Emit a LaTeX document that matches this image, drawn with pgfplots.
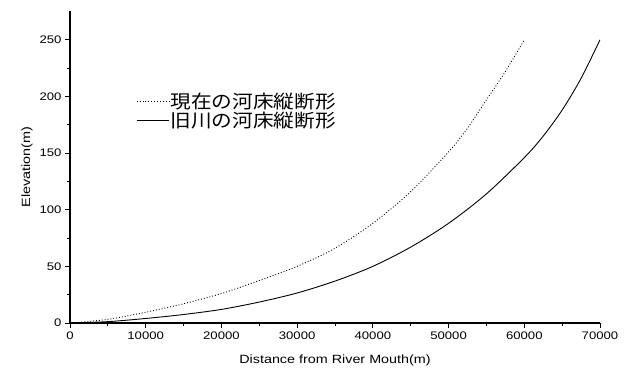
\documentclass[border=0pt]{standalone}
\usepackage{fontspec}
\setmainfont[FakeStretch=1.2]{Liberation Sans}
\newfontfamily\cjk[FakeStretch=1.12]{Noto Sans CJK JP}
\usepackage{pgfplots}
\pgfplotsset{compat=1.18}
\begin{document}
\begin{tikzpicture}
\path[use as bounding box] (-70bp,-54bp) rectangle (562bp,323bp);
\begin{axis}[
  scale only axis,
  width=530bp, height=311.5bp,
  xmin=0, xmax=70000, ymin=0, ymax=275,
  axis lines*=left,
  axis line style={line width=1.2bp},
  tick align=outside,
  major tick length=5bp, minor tick length=3bp,
  tick style={line width=0.9bp, black},
  xtick={0,10000,...,70000},
  ytick={0,50,...,250},
  minor x tick num=1, minor y tick num=1,
  scaled x ticks=false,
  /pgf/number format/1000 sep={},
  /pgf/number format/assume math mode=true,
  ticklabel style={font=\fontsize{11}{13}\selectfont},
  xlabel={Distance from River Mouth(m)},
  ylabel={Elevation(m)},
  xlabel style={yshift=-9bp},
  label style={font=\fontsize{12}{14}\selectfont},
  legend style={at={(0.119,0.75)}, anchor=north west, draw=none, fill=none,
    font=\cjk\fontsize{18.5}{21}\selectfont, row sep=-1bp,
    nodes={inner sep=1.5bp}},
  legend cell align=left,
  legend image code/.code={\draw[#1] (0bp,0bp) -- (32bp,0bp);},
]
\addplot[black, line width=0.9bp, dash pattern=on 0.9bp off 2bp, smooth] coordinates {
(0,0) (5000,3.2) (10000,9.5) (15000,17) (20000,26) (25000,37.5) (30000,50)
(35000,66) (40000,88) (45000,116) (50000,151) (52500,172) (55000,197)
(57500,222) (60000,250)};
\addlegendentry{現在の河床縦断形}
\addplot[black, line width=0.9bp, smooth] coordinates {
(0,0) (5000,1.2) (10000,4) (15000,7.5) (20000,12) (25000,18.5) (30000,26.5)
(35000,37) (40000,50) (45000,67) (50000,88) (55000,114)
(60000,146) (62500,165) (65000,188) (67500,216) (70000,250)};
\addlegendentry{旧川の河床縦断形}
\end{axis}
\end{tikzpicture}
\end{document}
